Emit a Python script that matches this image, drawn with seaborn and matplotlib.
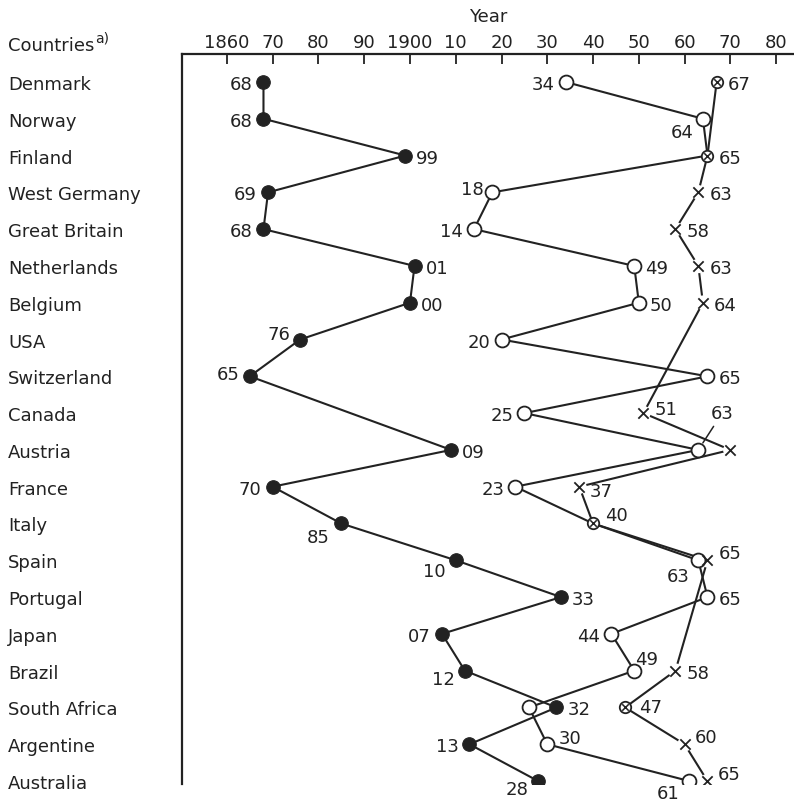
import numpy as np
import pandas as pd
import matplotlib
matplotlib.use("Agg")
import matplotlib.pyplot as plt
import seaborn as sns

# ---- data -------------------------------------------------------------
countries = ["Denmark", "Norway", "Finland", "West Germany", "Great Britain",
             "Netherlands", "Belgium", "USA", "Switzerland", "Canada",
             "Austria", "France", "Italy", "Spain", "Portugal", "Japan",
             "Brazil", "South Africa", "Argentine", "Australia"]

first_year = [1868, 1868, 1899, 1869, 1868, 1901, 1900, 1876, 1865, np.nan,
              1909, 1870, 1885, 1910, 1933, 1907, 1912, 1932, 1913, 1928]
second_year = [1934, 1964, 1965, 1918, 1914, 1949, 1950, 1920, 1965, 1925,
               1963, 1923, 1940, 1963, 1965, 1944, 1949, 1926, 1930, 1961]
third_year = [1967, np.nan, 1965, 1963, 1958, 1963, 1964, np.nan, np.nan, 1951,
              1970, 1937, 1940, 1965, np.nan, np.nan, 1958, 1947, 1960, 1965]
circled = ["Denmark", "Finland", "Italy", "South Africa"]

year_ticks = list(range(1860, 1990, 10))
year_ticklabels = ["1860", "70", "80", "90", "1900", "10", "20", "30", "40",
                   "50", "60", "70", "80"]

# ---- styling ------------------------------------------------------------
INK = "#222222"
sns.set_theme(style="white")
plt.rcParams["font.family"] = ["DejaVu Sans"]
FS = 13

df = pd.DataFrame({"country": countries, "row": np.arange(len(countries)),
                   "first": first_year, "second": second_year,
                   "third": third_year})
df["circled"] = df["country"].isin(circled)

W, H = 794, 804
fig = plt.figure(figsize=(W / 100, H / 100), dpi=100, facecolor="white")
ax = fig.add_axes([182 / W, 1 - 785 / H, 1 - 182 / W, (785 - 55) / H])

# connecting lines, one per series, in country order
for col in ["first", "second", "third"]:
    sub = df.dropna(subset=[col])
    sns.lineplot(data=sub, x=col, y="row", sort=False, estimator=None,
                 color=INK, lw=1.5, ax=ax, zorder=1)

# filled circles
sns.scatterplot(data=df.dropna(subset=["first"]), x="first", y="row",
                marker="o", s=95, color=INK, edgecolor=INK, linewidth=0.8,
                ax=ax, zorder=4)

# open circles (skipped where a circled cross already sits on the same year)
open_pts = df.dropna(subset=["second"])
open_pts = open_pts[~(open_pts["circled"] & (open_pts["second"] == open_pts["third"]))]
sns.scatterplot(data=open_pts, x="second", y="row", marker="o", s=100,
                color="white", edgecolor=INK, linewidth=1.3, ax=ax, zorder=4)

# crosses, with a white halo so the lines stop short of them
cross = df.dropna(subset=["third"])
plain = cross[~cross["circled"]]
ringed = cross[cross["circled"]]
sns.scatterplot(data=plain, x="third", y="row", marker="o", s=110,
                color="white", edgecolor="none", linewidth=0, ax=ax, zorder=3)
sns.scatterplot(data=plain, x="third", y="row", marker="x", s=55,
                color=INK, linewidth=1.3, ax=ax, zorder=4)
sns.scatterplot(data=ringed, x="third", y="row", marker="o", s=68,
                color="white", edgecolor=INK, linewidth=1.3, ax=ax, zorder=4)
sns.scatterplot(data=ringed, x="third", y="row", marker="x", s=22,
                color=INK, linewidth=1.1, ax=ax, zorder=5)

# ---- value labels -----------------------------------------------------
# offsets in pixels (dx right, dy down) and horizontal alignment
L = (-11, 0, "right")
R = (11, 0, "left")
place = {
    "first": {c: L for c in countries},
    "second": {c: L for c in countries},
    "third": {c: R for c in countries},
}
place["first"].update({
    "Finland": (10, 0, "left"), "Netherlands": R, "Belgium": R,
    "Austria": R, "Portugal": R, "South Africa": R,
    "USA": (-10, -8, "right"), "Switzerland": (-10, -4, "right"),
    "Italy": (-12, 12, "right"), "Spain": (-10, 9, "right"),
    "Brazil": (-10, 6, "right"), "Australia": (-10, 6, "right"),
})
place["second"].update({
    "Norway": (-9, 11, "right"), "West Germany": (-9, -5, "right"),
    "Netherlands": R, "Belgium": R, "Switzerland": R, "Portugal": R,
    "Spain": (-9, 14, "right"), "Brazil": (1, -14, "left"),
    "Argentine": (11, -8, "left"), "Australia": (-10, 10, "right"),
    "Finland": None, "Italy": None, "South Africa": None,
    "Austria": "leader",
})
place["third"].update({
    "Canada": (11, -6, "left"), "Austria": None,
    "France": (10, 2, "left"), "Italy": (12, -10, "left"),
    "Spain": (11, -9, "left"), "South Africa": (14, -2, "left"),
    "Argentine": (10, -9, "left"), "Australia": (10, -9, "left"),
})

for col in ["first", "second", "third"]:
    for _, r in df.dropna(subset=[col]).iterrows():
        spec = place[col][r["country"]]
        if spec is None:
            continue
        txt = f"{int(r[col]) % 100:02d}"
        if spec == "leader":
            ax.annotate(txt, xy=(r[col], r["row"]), xytext=(24 * 0.72, 37 * 0.72),
                        textcoords="offset points", ha="center", va="center",
                        fontsize=FS, color=INK, annotation_clip=False,
                        arrowprops=dict(arrowstyle="-", color=INK, lw=1.1,
                                        shrinkA=1, shrinkB=6))
            continue
        dx, dy, ha = spec
        ax.annotate(txt, xy=(r[col], r["row"]), xytext=(dx * 0.72, -dy * 0.72),
                    textcoords="offset points", ha=ha, va="center_baseline",
                    fontsize=FS, color=INK, annotation_clip=False)

# ---- axes ---------------------------------------------------------------
ax.set_xlim(1850.2, 1983.9)
ax.set_ylim(19.08, -0.76)
ax.xaxis.tick_top()
ax.xaxis.set_label_position("top")
ax.set_xticks(year_ticks)
ax.set_xticklabels(year_ticklabels, fontsize=FS, color=INK)
ax.tick_params(axis="x", direction="in", length=7, width=1.3, color=INK,
               pad=2, top=True, bottom=False)
ax.set_xlabel("Year", fontsize=FS, color=INK, labelpad=9)

ax.set_yticks(range(len(countries)))
ax.set_yticklabels(countries, fontsize=FS, color=INK)
ax.tick_params(axis="y", length=0, pad=174 * 0.72)
for lab in ax.get_yticklabels():
    lab.set_horizontalalignment("left")
ax.set_ylabel("")

for side in ["right", "bottom"]:
    ax.spines[side].set_visible(False)
for side in ["top", "left"]:
    ax.spines[side].set_visible(True)
    ax.spines[side].set_color(INK)
    ax.spines[side].set_linewidth(1.6)
ax.grid(False)
ax.set_facecolor("white")

fig.text(8 / W, 1 - 51 / H, "Countries", fontsize=FS, color=INK,
         ha="left", va="baseline")
fig.text(95 / W, 1 - 42 / H, "a)", fontsize=10, color=INK,
         ha="left", va="baseline")

fig.savefig("out.png", dpi=100, facecolor="white")
